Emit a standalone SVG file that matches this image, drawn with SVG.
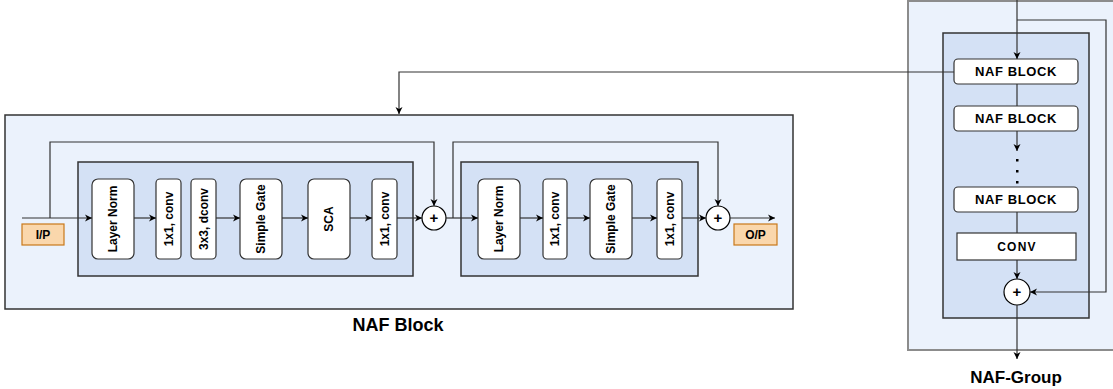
<svg xmlns="http://www.w3.org/2000/svg" width="1113" height="389" viewBox="0 0 1113 389">
<style>
.outer{fill:#ebf2fc;stroke:#333;stroke-width:1.5}
.gouter{fill:#ebf2fc;stroke:#8c8c8c;stroke-width:2}
.inner{fill:#d4e1f5;stroke:#333;stroke-width:1.5}
.box{fill:#fff;stroke:#333;stroke-width:1.2}
.io{fill:#fad7ac;stroke:#c9781a;stroke-width:1.2}
.t{font-family:"Liberation Sans",Arial,sans-serif;font-weight:bold;font-size:12px;fill:#000;text-anchor:middle;dominant-baseline:central}
.nb{font-size:13px;letter-spacing:0.6px}
.pl{font-size:15px}
.lbl{font-family:"Liberation Sans",Arial,sans-serif;font-weight:bold;fill:#000;text-anchor:middle}
.ln{fill:none;stroke:#333;stroke-width:1.2}
.circ{fill:#fff;stroke:#000;stroke-width:1.2}
</style>
<defs>
<marker id="arr" markerUnits="userSpaceOnUse" markerWidth="10" markerHeight="10" refX="7" refY="4" orient="auto">
<path d="M0,0.5 L7,4 L0,7.5 L2,4 z" fill="#000"/>
</marker>
</defs>

<g id="naf-block-frame">
<rect class="outer" x="5" y="115" width="788" height="194"/>
<text class="lbl" x="398" y="331" font-size="18">NAF Block</text>
</g>
<g id="inner1"><rect class="inner" x="78" y="162" width="335" height="114"/></g>
<g id="inner2"><rect class="inner" x="461" y="162" width="237" height="114"/></g>

<g id="ip"><rect class="io" x="22" y="224" width="42" height="21"/><text class="t" x="43" y="234.5" font-size="13">I/P</text></g>
<g id="op"><rect class="io" x="734" y="224" width="43" height="21"/><text class="t" x="755.5" y="234.5" font-size="13">O/P</text></g>

<g id="ln1"><rect class="box" x="92" y="179" width="42" height="80" rx="6"/><text class="t" transform="translate(113,219) rotate(-90)">Layer Norm</text></g>
<g id="conv1"><rect class="box" x="156" y="179" width="25" height="80" rx="4"/><text class="t" transform="translate(168.5,219) rotate(-90)">1x1, conv</text></g>
<g id="dconv"><rect class="box" x="191" y="179" width="25" height="80" rx="4"/><text class="t" transform="translate(203.5,219) rotate(-90)">3x3, dconv</text></g>
<g id="sg1"><rect class="box" x="240" y="179" width="42" height="80" rx="6"/><text class="t" transform="translate(261,219) rotate(-90)">Simple Gate</text></g>
<g id="sca"><rect class="box" x="308" y="179" width="42" height="80" rx="6"/><text class="t" transform="translate(329,219) rotate(-90)">SCA</text></g>
<g id="conv2"><rect class="box" x="372" y="179" width="25" height="80" rx="4"/><text class="t" transform="translate(384.5,219) rotate(-90)">1x1, conv</text></g>
<g id="plus1"><circle class="circ" cx="434" cy="218" r="12"/><text class="t pl" x="434" y="217">+</text></g>

<g id="ln2"><rect class="box" x="478" y="179" width="42" height="80" rx="6"/><text class="t" transform="translate(499,219) rotate(-90)">Layer Norm</text></g>
<g id="conv3"><rect class="box" x="543" y="179" width="24" height="80" rx="4"/><text class="t" transform="translate(555,219) rotate(-90)">1x1, conv</text></g>
<g id="sg2"><rect class="box" x="590" y="179" width="42" height="80" rx="6"/><text class="t" transform="translate(611,219) rotate(-90)">Simple Gate</text></g>
<g id="conv4"><rect class="box" x="657" y="179" width="25" height="80" rx="4"/><text class="t" transform="translate(669.5,219) rotate(-90)">1x1, conv</text></g>
<g id="plus2"><circle class="circ" cx="718" cy="218" r="12"/><text class="t pl" x="718" y="217">+</text></g>

<g id="naf-group-frame">
<rect class="gouter" x="908" y="1" width="210" height="349"/>
<rect class="inner" x="943" y="33" width="146" height="285"/>
<text class="lbl" x="1016" y="383" font-size="17">NAF-Group</text>
</g>
<g id="nb1"><rect class="box" x="954" y="59" width="124" height="25" rx="4"/><text class="t nb" x="1016" y="71.5">NAF BLOCK</text></g>
<g id="nb2"><rect class="box" x="954" y="106" width="124" height="25" rx="4"/><text class="t nb" x="1016" y="118.5">NAF BLOCK</text></g>
<g id="dots"><rect x="1016" y="159" width="2.5" height="2.5" fill="#000"/><rect x="1016" y="170" width="2.5" height="2.5" fill="#000"/><rect x="1016" y="181" width="2.5" height="2.5" fill="#000"/></g>
<g id="nb3"><rect class="box" x="954" y="187" width="124" height="25" rx="4"/><text class="t nb" x="1016" y="199.5">NAF BLOCK</text></g>
<g id="convg"><rect class="box" x="957" y="233" width="119" height="27"/><text class="t" x="1017" y="246.5" font-size="13" letter-spacing="1.2">CONV</text></g>
<g id="plusg"><circle class="circ" cx="1017" cy="292" r="13"/><text class="t pl" x="1017" y="291">+</text></g>

<g id="connectors">
<path class="ln" d="M22,218 H92" marker-end="url(#arr)"/>
<path class="ln" d="M50,218 V142 H434 V206" marker-end="url(#arr)"/>
<path class="ln" d="M134,218 H156" marker-end="url(#arr)"/>
<path class="ln" d="M216,218 H240" marker-end="url(#arr)"/>
<path class="ln" d="M282,218 H308" marker-end="url(#arr)"/>
<path class="ln" d="M350,218 H372" marker-end="url(#arr)"/>
<path class="ln" d="M397,218 H422" marker-end="url(#arr)"/>
<path class="ln" d="M446,218 H478" marker-end="url(#arr)"/>
<path class="ln" d="M453,218 V142 H718 V206" marker-end="url(#arr)"/>
<path class="ln" d="M520,218 H543" marker-end="url(#arr)"/>
<path class="ln" d="M567,218 H590" marker-end="url(#arr)"/>
<path class="ln" d="M632,218 H657" marker-end="url(#arr)"/>
<path class="ln" d="M682,218 H706" marker-end="url(#arr)"/>
<path class="ln" d="M730,218 H775" marker-end="url(#arr)"/>
<path class="ln" d="M1017,0 V59" marker-end="url(#arr)"/>
<path class="ln" d="M1017,20 H1106 V292 H1030" marker-end="url(#arr)"/>
<path class="ln" d="M1017,84 V106"/>
<path class="ln" d="M1017,131 V151" marker-end="url(#arr)"/>
<path class="ln" d="M1017,212 V233"/>
<path class="ln" d="M1017,260 V279" marker-end="url(#arr)"/>
<path class="ln" d="M1017,305 V359" marker-end="url(#arr)"/>
<path class="ln" d="M954,72 H399 V114" marker-end="url(#arr)"/>
</g>
</svg>
